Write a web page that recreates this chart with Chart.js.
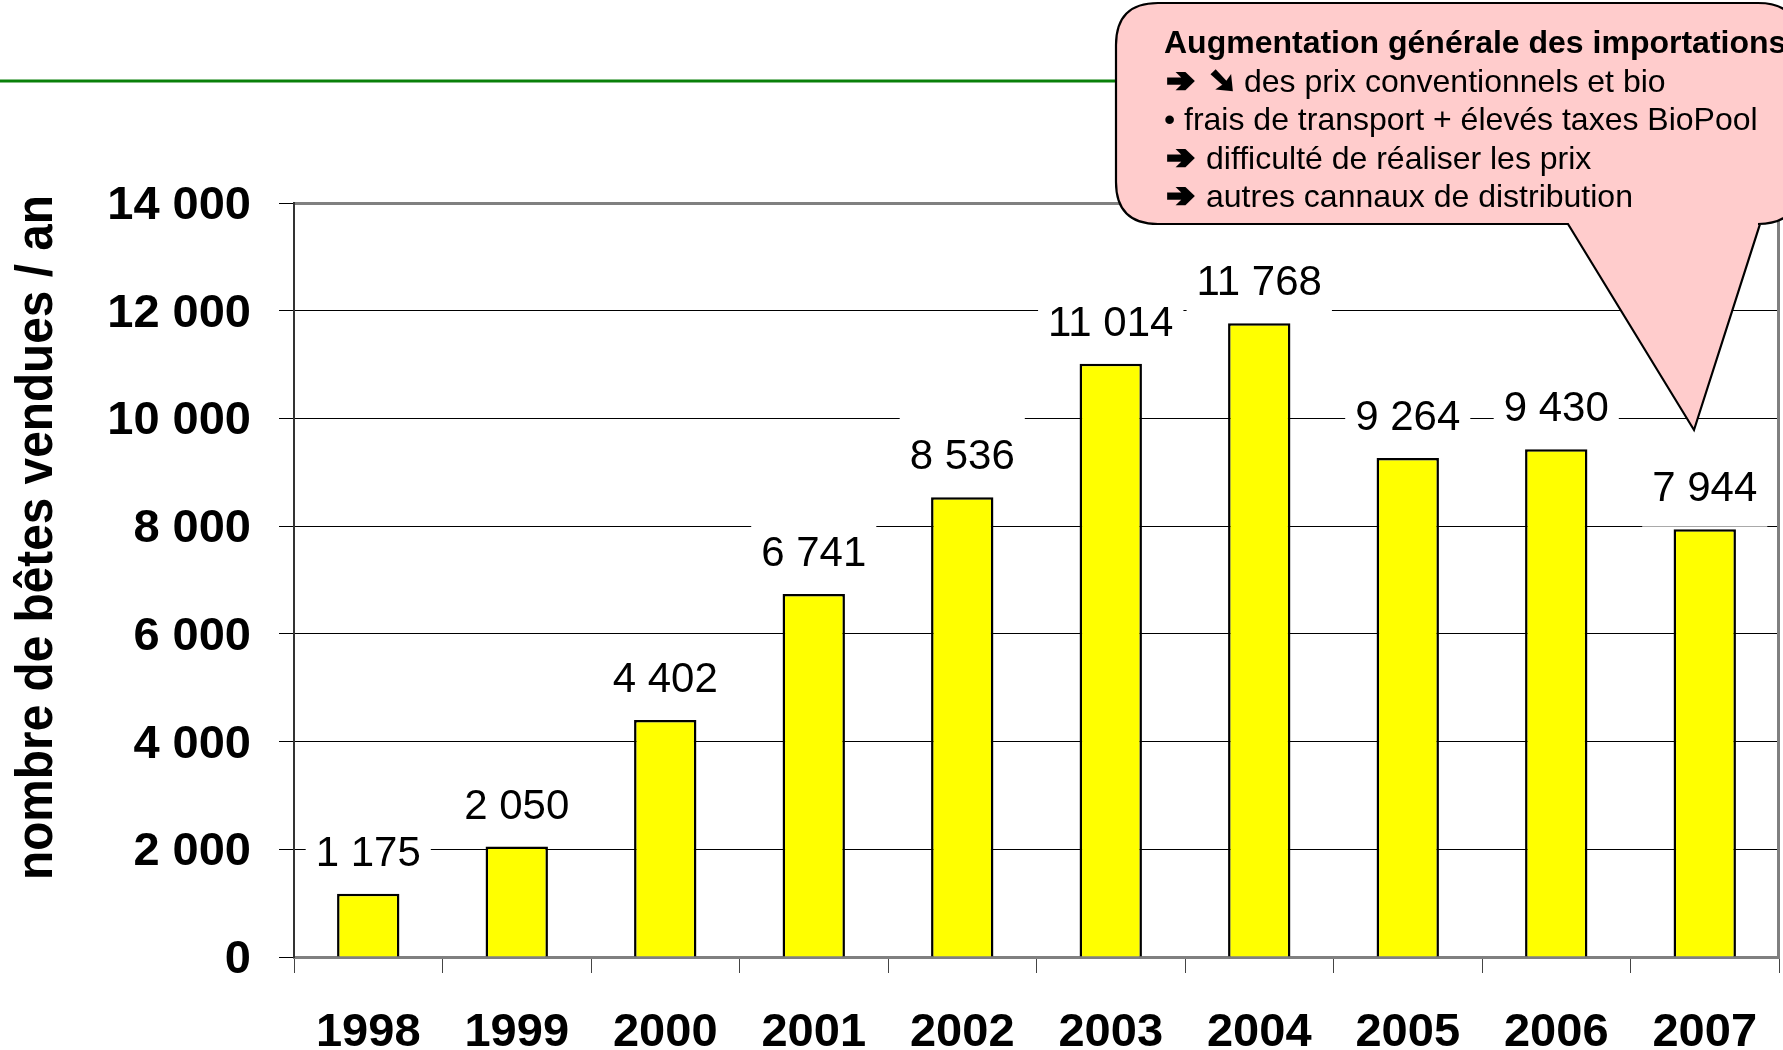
<!DOCTYPE html>
<html>
<head>
<meta charset="utf-8">
<script src="https://cdn.jsdelivr.net/npm/chart.js@4.4.0/dist/chart.umd.min.js"></script>
<style>
  html, body { margin: 0; padding: 0; background: #fff; overflow: hidden; }
  #wrap { position: relative; width: 1783px; height: 1050px; }
</style>
</head>
<body>
<div id="wrap"><canvas id="c" width="1783" height="1050"></canvas></div>
<script>
// ---- data ----
const years = ['1998', '1999', '2000', '2001', '2002', '2003', '2004', '2005', '2006', '2007'];
const animalsSold = [1175, 2050, 4402, 6741, 8536, 11014, 11768, 9264, 9430, 7944];
const yTickValues = [0, 2000, 4000, 6000, 8000, 10000, 12000, 14000];
const yAxisTitle = 'nombre de bêtes vendues / an';
const calloutTitle = 'Augmentation générale des importations';
// each line: [symbols, text]
const calloutLines = [
  [['➔', '➘'], 'des prix conventionnels et bio'],
  [['•'], 'frais de transport + élevés taxes BioPool'],
  [['➔'], 'difficulté de réaliser les prix'],
  [['➔'], 'autres cannaux de distribution']
];

const FONT = "'Liberation Sans', Arial, 'DejaVu Sans', sans-serif";
const fmt = v => String(v).replace(/\B(?=(\d{3})+(?!\d))/g, ' ');

const decor = {
  id: 'decor',
  beforeDraw(chart) {
    const ctx = chart.ctx;
    ctx.save();
    ctx.fillStyle = '#fff';
    ctx.fillRect(0, 0, chart.width, chart.height);
    // green rule under slide title
    ctx.strokeStyle = '#0a800a';
    ctx.lineWidth = 3;
    ctx.beginPath();
    ctx.moveTo(0, 81);
    ctx.lineTo(chart.width, 81);
    ctx.stroke();
    ctx.restore();
  },
  beforeDatasetsDraw(chart) {
    const ctx = chart.ctx;
    const a = chart.chartArea;
    ctx.save();
    // plot area right border
    ctx.strokeStyle = '#808080';
    ctx.lineWidth = 3;
    ctx.beginPath();
    ctx.moveTo(a.right - 0.5, a.top);
    ctx.lineTo(a.right - 0.5, a.bottom);
    ctx.stroke();
    // data labels with white boxes
    const meta = chart.getDatasetMeta(0);
    ctx.font = '42px ' + FONT;
    ctx.textAlign = 'center';
    ctx.textBaseline = 'middle';
    meta.data.forEach((el, i) => {
      const txt = fmt(animalsSold[i]);
      const w = ctx.measureText(txt).width;
      const cy = el.y - 42.5;
      ctx.fillStyle = '#fff';
      ctx.fillRect(el.x - w / 2 - 10, cy - 40, w + 20, 80);
      ctx.fillStyle = '#000';
      ctx.fillText(txt, el.x, cy + 3);
    });
    ctx.restore();
  },
  afterDraw(chart) {
    const ctx = chart.ctx;
    ctx.save();
    // y axis title
    ctx.translate(52, 537.5);
    ctx.rotate(-Math.PI / 2);
    ctx.font = 'bold 47px ' + FONT;
    const tw = ctx.measureText(yAxisTitle).width;
    ctx.scale(685 / tw, 1.12);
    ctx.fillStyle = '#000';
    ctx.textAlign = 'center';
    ctx.textBaseline = 'alphabetic';
    ctx.fillText(yAxisTitle, 0, 0);
    ctx.restore();

    // callout
    ctx.save();
    const L = 1116, T = 3, R = 1800, B = 224, r = 42;
    ctx.beginPath();
    ctx.moveTo(L + r, T);
    ctx.lineTo(R - r, T);
    ctx.quadraticCurveTo(R, T, R, T + r);
    ctx.lineTo(R, B - r);
    ctx.quadraticCurveTo(R, B, R - r, B);
    ctx.lineTo(1760, B);
    ctx.lineTo(1694, 430);
    ctx.lineTo(1568, B);
    ctx.lineTo(L + r, B);
    ctx.quadraticCurveTo(L, B, L, B - r);
    ctx.lineTo(L, T + r);
    ctx.quadraticCurveTo(L, T, L + r, T);
    ctx.closePath();
    ctx.fillStyle = '#ffcccc';
    ctx.fill();
    ctx.strokeStyle = '#000';
    ctx.lineWidth = 2.2;
    ctx.lineJoin = 'miter';
    ctx.stroke();

    ctx.fillStyle = '#000';
    ctx.strokeStyle = '#000';
    ctx.textAlign = 'left';
    ctx.textBaseline = 'alphabetic';
    ctx.font = 'bold 32px ' + FONT;
    ctx.fillText(calloutTitle, 1164, 53);
    const baselines = [91.5, 130, 168.5, 207];
    calloutLines.forEach(([syms, txt], i) => {
      const y = baselines[i];
      if (syms[0] === '•') {
        ctx.font = '32px ' + FONT;
        ctx.fillText('•', 1164, y);
        ctx.fillText(txt, 1184, y);
      } else {
        ctx.font = 'bold 30px "DejaVu Sans"';
        let x = 1167;
        syms.forEach(s => {
          const w = ctx.measureText(s).width;
          ctx.save();
          ctx.translate(x, y - 1);
          ctx.scale(27 / w, 1.05);
          ctx.lineWidth = 3.2;
          ctx.lineJoin = 'miter';
          ctx.fillText(s, 0, 0);
          ctx.strokeText(s, 0, 0);
          ctx.restore();
          x += 42;
        });
        ctx.font = '32px ' + FONT;
        ctx.fillText(txt, syms.length > 1 ? 1244 : 1206, y);
      }
    });
    ctx.restore();
  }
};

new Chart(document.getElementById('c'), {
  type: 'bar',
  data: {
    labels: years,
    datasets: [{
      data: animalsSold,
      backgroundColor: '#ffff00',
      borderColor: '#000',
      borderWidth: 2.5,
      borderSkipped: 'start',
      barPercentage: 0.42,
      categoryPercentage: 1.0
    }]
  },
  options: {
    responsive: false,
    animation: false,
    devicePixelRatio: 1,
    layout: { padding: { top: 203, right: 4, left: 0, bottom: 0 } },
    plugins: { legend: { display: false }, tooltip: { enabled: false } },
    scales: {
      x: {
        offset: true,
        grid: {
          display: true,
          drawOnChartArea: false,
          drawTicks: true,
          tickLength: 16,
          color: '#444',
          lineWidth: 1,
          offset: true
        },
        border: { display: true, color: '#808080', width: 3 },
        ticks: {
          color: '#000',
          font: { family: FONT, size: 47, weight: 'bold' },
          padding: 32,
          maxRotation: 0,
          autoSkip: false
        },
        afterFit: s => { s.height = 93; s.paddingLeft = 0; s.paddingRight = 0; }
      },
      y: {
        min: 0,
        max: 14000,
        afterBuildTicks: s => { s.ticks = yTickValues.map(v => ({ value: v })); },
        ticks: {
          color: '#000',
          font: { family: FONT, size: 47, weight: 'bold' },
          padding: 28,
          labelOffset: 3,
          callback: v => fmt(v)
        },
        grid: {
          color: c => (c.tick && c.tick.value === 14000) ? '#808080' : (c.tick && c.tick.value === 0 ? 'rgba(0,0,0,0)' : '#000'),
          lineWidth: c => (c.tick && c.tick.value === 14000) ? 3 : 1,
          tickLength: 15,
          tickColor: '#000',
          tickWidth: 1
        },
        border: { display: true, color: '#333', width: 2 },
        afterFit: s => { s.width = 294; s.paddingTop = 0; s.paddingBottom = 0; }
      }
    }
  },
  plugins: [decor]
});
</script>
</body>
</html>
